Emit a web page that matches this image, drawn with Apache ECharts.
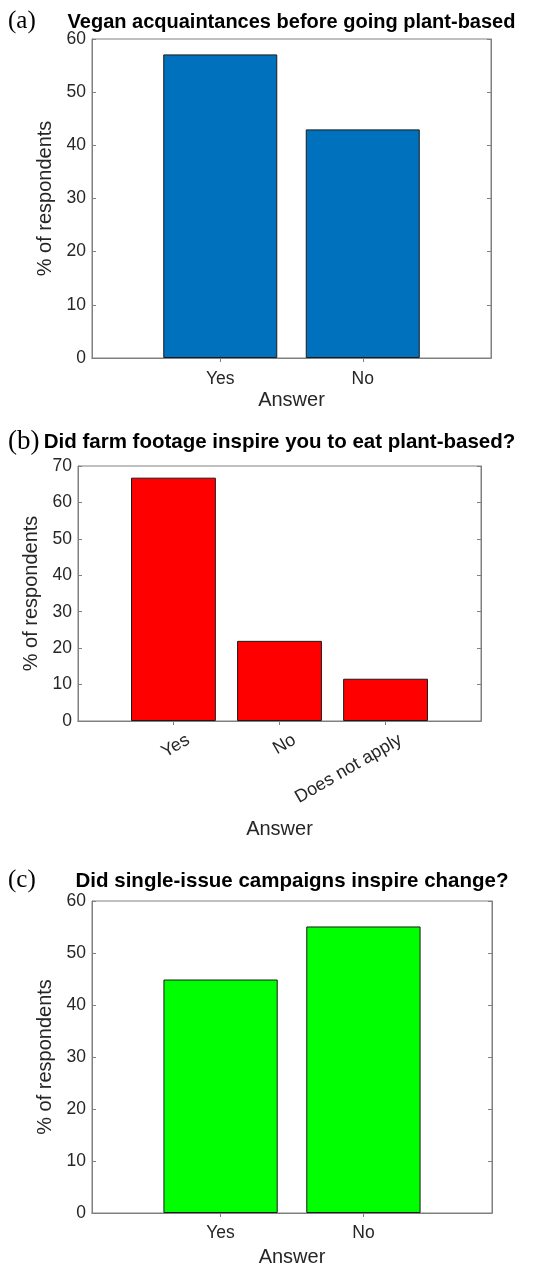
<!DOCTYPE html>
<html>
<head>
<meta charset="utf-8">
<title>Survey answers</title>
<script src="https://cdn.jsdelivr.net/npm/echarts@6/dist/echarts.min.js"></script>
<style>
  html, body { margin: 0; padding: 0; background: #ffffff; }
  #chart { width: 542px; height: 1268px; }
</style>
</head>
<body>
<div id="chart"></div>
<script>
// Panel titles and tags
const panelTags = ['(a)', '(b)', '(c)'];
const panelTitles = [
  'Vegan acquaintances before going plant-based',
  'Did farm footage inspire you to eat plant-based?',
  'Did single-issue campaigns inspire change?'
];

// Answers and share of respondents (%)
const categoriesA = ['Yes', 'No'];
const valuesA = [57.1, 43.0];

const categoriesB = ['Yes', 'No', 'Does not apply'];
const valuesB = [66.8, 22.0, 11.6];

const categoriesC = ['Yes', 'No'];
const valuesC = [44.9, 55.1];

// Y-axis tick ranges
const yMaxA = 60;
const yMaxB = 70;
const yMaxC = 60;
const yStep = 10;

const xAxisName = 'Answer';
const yAxisName = '% of respondents';

// Styling and layout
const FONT = 'Liberation Sans, Arial, Helvetica, sans-serif';
const SERIF = 'Liberation Serif, Times New Roman, serif';
const TEXT = '#262626';
const FRAME = '#808080';
const EDGE = '#1a1a1a';

const panels = [
  { cats: categoriesA, vals: valuesA, yMax: yMaxA, color: '#0072BD',
    grid: { left: 92, top: 39, width: 399, height: 319 },
    titleY: 22, tagY: 21, titleSize: 20, tagSize: 25, rotate: 0,
    nameGap: 32, yNameGap: 36, labelMargin: 12 },
  { cats: categoriesB, vals: valuesB, yMax: yMaxB, color: '#FF0000',
    grid: { left: 78, top: 466, width: 403, height: 255 },
    titleY: 442, tagY: 442, titleSize: 20.5, tagSize: 27, rotate: 30,
    nameGap: 98, yNameGap: 31, labelMargin: 16 },
  { cats: categoriesC, vals: valuesC, yMax: yMaxC, color: '#00FF00',
    grid: { left: 92, top: 901, width: 400, height: 314 },
    titleY: 881, tagY: 880, titleSize: 20.5, tagSize: 25, rotate: 0,
    nameGap: 34, yNameGap: 32, labelMargin: 11 }
];

const grids = [], xAxes = [], yAxes = [], series = [], graphics = [];

panels.forEach((p, i) => {
  const n = p.cats.length;
  const xMin = 0.1, xMax = n + 0.9;
  const positions = p.cats.map((_, k) => k + 1);
  const barPx = p.grid.width * 0.8 / (xMax - xMin);

  grids.push(Object.assign({ show: true, borderColor: FRAME, borderWidth: 1,
    backgroundColor: 'transparent', containLabel: false }, p.grid));

  const tickStyle = { show: true, inside: true, length: 4,
    lineStyle: { color: FRAME, width: 1 } };

  const xLabel = {
    customValues: positions, margin: p.labelMargin, rotate: p.rotate,
    fontSize: p.rotate ? 18 : 17.5, fontFamily: FONT, color: TEXT,
    formatter: v => p.cats[Math.round(v) - 1] || ''
  };
  if (p.rotate) {
    // slanted labels hang just right of their tick
    xLabel.verticalAlign = 'top';
    xLabel.padding = [0, -12, 0, 0];
  }

  // bottom axis (labels + name)
  xAxes.push({
    type: 'value', gridIndex: i, min: xMin, max: xMax, position: 'bottom',
    axisLine: { show: true, lineStyle: { color: FRAME, width: 1 } },
    axisTick: Object.assign({ customValues: positions }, tickStyle),
    axisLabel: xLabel,
    splitLine: { show: false },
    name: xAxisName, nameLocation: 'middle', nameGap: p.nameGap,
    nameTextStyle: { fontSize: 20, fontFamily: FONT, color: TEXT }
  });
  // top axis (mirrored ticks only)
  xAxes.push({
    type: 'value', gridIndex: i, min: xMin, max: xMax, position: 'top',
    axisLine: { show: true, lineStyle: { color: FRAME, width: 1 } },
    axisTick: Object.assign({ customValues: positions }, tickStyle),
    axisLabel: { show: false },
    splitLine: { show: false }
  });
  // left axis (labels + name)
  yAxes.push({
    type: 'value', gridIndex: i, min: 0, max: p.yMax, interval: yStep,
    position: 'left',
    axisLine: { show: true, lineStyle: { color: FRAME, width: 1 } },
    axisTick: tickStyle,
    axisLabel: { margin: 6, fontSize: 17.5, fontFamily: FONT, color: TEXT },
    splitLine: { show: false },
    name: yAxisName, nameLocation: 'middle', nameGap: p.yNameGap, nameRotate: 90,
    nameTextStyle: { fontSize: 20, fontFamily: FONT, color: TEXT }
  });
  // right axis (mirrored ticks only)
  yAxes.push({
    type: 'value', gridIndex: i, min: 0, max: p.yMax, interval: yStep,
    position: 'right',
    axisLine: { show: true, lineStyle: { color: FRAME, width: 1 } },
    axisTick: tickStyle,
    axisLabel: { show: false },
    splitLine: { show: false }
  });

  series.push({
    type: 'bar', xAxisIndex: i * 2, yAxisIndex: i * 2,
    barWidth: barPx,
    data: p.vals.map((v, k) => [positions[k], v]),
    itemStyle: { color: p.color, borderColor: EDGE, borderWidth: 1 },
    emphasis: { disabled: true },
    silent: true
  });

  // panel tag and bold title
  graphics.push({
    type: 'text', x: 8, y: p.tagY,
    style: { text: panelTags[i], font: p.tagSize + 'px ' + SERIF, fill: '#000',
      textAlign: 'left', textVerticalAlign: 'middle' }
  });
  graphics.push({
    type: 'text', x: p.grid.left + p.grid.width / 2, y: p.titleY,
    style: { text: panelTitles[i], font: 'bold ' + p.titleSize + 'px ' + FONT,
      fill: '#000', textAlign: 'center', textVerticalAlign: 'middle' }
  });
});

const chart = echarts.init(document.getElementById('chart'), null, { renderer: 'canvas' });
chart.setOption({
  animation: false,
  backgroundColor: '#ffffff',
  grid: grids,
  xAxis: xAxes,
  yAxis: yAxes,
  series: series,
  graphic: graphics
});
</script>
</body>
</html>
